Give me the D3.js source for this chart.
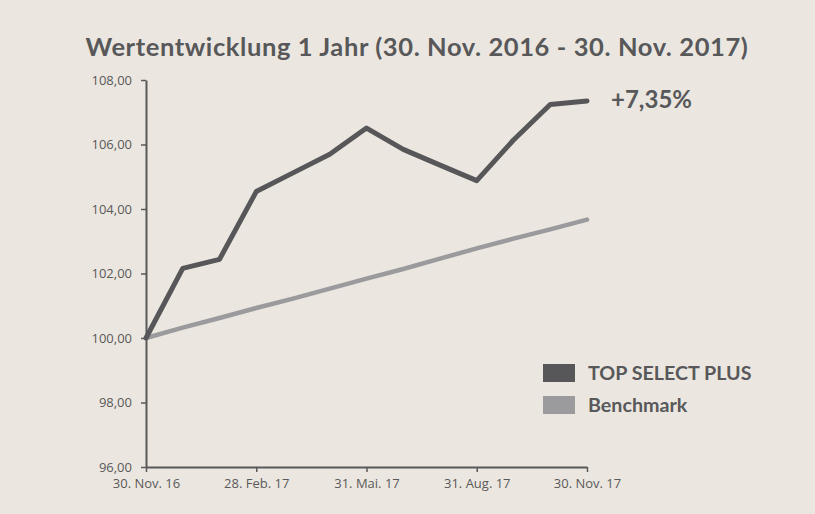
<!DOCTYPE html>
<html>
<head>
<meta charset="utf-8">
<script src="https://cdn.jsdelivr.net/npm/d3@7"></script>
<style>
  body { margin: 0; background: #ebe7e0; }
  svg { display: block; }
  .axis text { font-family: "Open Sans", sans-serif; font-size: 13px; fill: #595959; }
</style>
</head>
<body>
<script>
document.addEventListener('DOMContentLoaded', function(){

    // Data
    const months = ['30. Nov. 16', 'Dez 16', 'Jan 17', '28. Feb. 17', 'Mär 17', 'Apr 17', '31. Mai. 17',
                    'Jun 17', 'Jul 17', '31. Aug. 17', 'Sep 17', 'Okt 17', '30. Nov. 17']
    const topSelect = [100.00, 102.16, 102.44, 104.54, 105.12, 105.70, 106.51, 105.85, 105.36, 104.88, 106.14, 107.24, 107.35]
    const benchmark = [100.00, 100.32, 100.62, 100.93, 101.22, 101.53, 101.84, 102.14, 102.46, 102.78, 103.08, 103.37, 103.67]
    const yTicks = [96, 98, 100, 102, 104, 106, 108]
    const seriesNames = ['TOP SELECT PLUS', 'Benchmark']

    const width = 815
    const height = 514
    const margin = {"top": 80, "right": 228, "bottom": 47, "left": 146}

    const svg = d3.select("body")
        .append("svg")
        .attr("width", width)
        .attr("height", height)

    svg.append('rect')
        .attr('width', width)
        .attr('height', height)
        .attr('fill', '#ebe7e0')

    // Title
    svg.append('text')
        .attr('x', 417)
        .attr('y', 56)
        .attr('text-anchor', 'middle')
        .style('font-family', 'Lato, sans-serif')
        .style('font-weight', 'bold')
        .style('font-size', '25.5px')
        .style('letter-spacing', '0.6px')
        .attr('fill', '#58585a')
        .text('Wertentwicklung 1 Jahr (30. Nov. 2016 - 30. Nov. 2017)')

    // Scales
    const xScale = d3.scalePoint()
        .domain(months)
        .range([margin.left, width - margin.right])

    const yScale = d3.scaleLinear()
        .domain([96, 108])
        .range([height - margin.bottom, margin.top])

    const fmt = d => d3.format(".2f")(d).replace('.', ',')

    // Axes
    svg.append("g")
        .attr("class", "axis")
        .attr('transform', `translate(0, ${height - margin.bottom})`)
        .call(d3.axisBottom(xScale)
            .tickValues(months.filter((d, i) => !(i % 3)))
            .tickSize(5)
            .tickPadding(7)
            .tickSizeOuter(0))

    svg.append("g")
        .attr("class", "axis")
        .attr('transform', `translate(${margin.left}, 0)`)
        .call(d3.axisLeft(yScale)
            .tickValues(yTicks)
            .tickFormat(fmt)
            .tickSize(5)
            .tickPadding(9)
            .tickSizeOuter(0))

    svg.selectAll('.axis path, .axis line')
        .attr('stroke', '#595959')
    svg.selectAll('.axis path')
        .attr('stroke-width', 2)
    svg.selectAll('.axis line')
        .attr('stroke-width', 1.5)

    // Lines
    const line = d3.line()
        .x((d, i) => xScale(months[i]))
        .y(d => yScale(d))

    svg.append('path')
        .datum(benchmark)
        .attr('d', line)
        .attr('fill', 'none')
        .attr('stroke', '#9b9b9d')
        .attr('stroke-width', 4.5)
        .attr('stroke-linecap', 'round')

    svg.append('path')
        .datum(topSelect)
        .attr('d', line)
        .attr('fill', 'none')
        .attr('stroke', '#575759')
        .attr('stroke-width', 5)
        .attr('stroke-linecap', 'round')
        .attr('stroke-linejoin', 'round')

    // Performance label
    const last = topSelect[topSelect.length - 1]
    svg.append('text')
        .attr('x', xScale(months[months.length - 1]) + 24)
        .attr('y', yScale(last) + 7)
        .style('font-family', 'Lato, sans-serif')
        .style('font-weight', 'bold')
        .style('font-size', '24px')
        .attr('fill', '#58585a')
        .text('+' + d3.format(".2f")(last - 100).replace('.', ',') + '%')

    // Legend
    const legend = svg.append('g')
        .attr('transform', 'translate(543, 364)')

    const legendColors = ['#575759', '#9b9b9d']

    const items = legend.selectAll('g')
        .data(seriesNames)
        .enter()
        .append('g')
        .attr('transform', (d, i) => `translate(0, ${i * 32})`)

    items.append('rect')
        .attr('width', 32)
        .attr('height', 18)
        .attr('fill', (d, i) => legendColors[i])

    items.append('text')
        .attr('x', 45)
        .attr('y', 16)
        .style('font-family', 'Lato, sans-serif')
        .style('font-weight', 'bold')
        .style('font-size', '19.7px')
        .attr('fill', '#58585a')
        .text(d => d)
});
</script>
</body>
</html>
